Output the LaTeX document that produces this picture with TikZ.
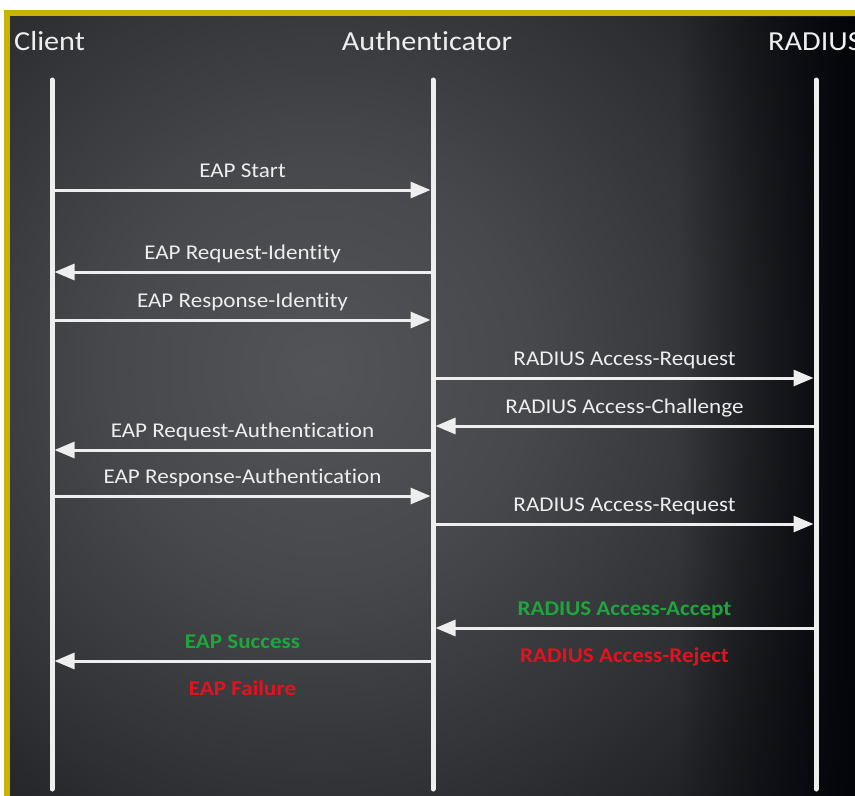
\documentclass[tikz,border=0pt]{standalone}
\usepackage{fontspec}
\setmainfont{Carlito}[FakeStretch=1.1, Ligatures=NoCommon]
\usetikzlibrary{arrows.meta, fadings}

\definecolor{frameyellow}{RGB}{200,180,0}
\definecolor{ink}{RGB}{238,238,238}
\definecolor{okgreen}{RGB}{30,165,60}
\definecolor{failred}{RGB}{228,18,30}
% background glow, from the lit middle out to the dark rim
\definecolor{bgA}{RGB}{82,84,88}
\definecolor{bgB}{RGB}{70,72,76}
\definecolor{bgC}{RGB}{48,50,54}
\definecolor{bgD}{RGB}{32,34,38}
\definecolor{bgE}{RGB}{18,20,25}
\definecolor{bgF}{RGB}{8,9,14}
\definecolor{bgG}{RGB}{4,5,10}
\pgfdeclareradialshading{panelglow}{\pgfpoint{0bp}{0bp}}{%
  color(0bp)=(bgA); color(9.5bp)=(bgB); color(19bp)=(bgC);
  color(25bp)=(bgD); color(31.5bp)=(bgE); color(38bp)=(bgF);
  color(50bp)=(bgG)}
% darkening towards the right rim
\tikzfading[name=darkright, left color=transparent!100, right color=transparent!0]

\tikzset{
  head/.style={text=ink, inner sep=0pt, font=\fontsize{27.5}{32}\selectfont},
  lifeline/.style={draw=ink, line width=5pt, line cap=round},
  msg/.style={draw=ink, line width=3pt,
    -{Triangle[length=20pt,width=16pt]},
    shorten >=2.5pt, shorten <=2.5pt},
  lblbase/.style={midway, anchor=base, inner sep=0pt,
    text=ink, font=\fontsize{21}{25}\selectfont},
  lbl/.style={lblbase, yshift=13pt},
  lblbelow/.style={lblbase, yshift=-34pt},
  okmsg/.style={text=okgreen, font=\fontsize{21}{25}\selectfont\bfseries},
  failmsg/.style={text=failred, font=\fontsize{21}{25}\selectfont\bfseries},
}

\begin{document}
\begin{tikzpicture}[x=1pt, y=-1pt]
\useasboundingbox (0,0) rectangle (855,796);
\fill[white] (0,0) rectangle (855,796);
\fill[frameyellow] (4,10) rectangle (855,796);
\begin{scope}
  \clip (10,16) rectangle (855,796);
  \shade[shading=panelglow] (-240,-190) rectangle (880,930);
  \fill[bgG, path fading=darkright] (680,16) rectangle (855,796);
\end{scope}

% actors
\node[head, anchor=base west] (hclient) at (14,50) {Client};
\node[head, anchor=base] (hauth) at (427,50) {Authenticator};
\node[head, anchor=base west] (hradius) at (768,50) {RADIUS};

% lifelines
\coordinate (ctop) at (52,80);   \coordinate (cbot) at (52,789);
\coordinate (atop) at (433,80);  \coordinate (abot) at (433,789);
\coordinate (rtop) at (816,80);  \coordinate (rbot) at (816,789);
\draw[lifeline] (ctop) -- (cbot);
\draw[lifeline] (atop) -- (abot);
\draw[lifeline] (rtop) -- (rbot);

% message rows
\coordinate (m1) at (0,190);
\coordinate (m2) at (0,272);
\coordinate (m3) at (0,320);
\coordinate (m4) at (0,378);
\coordinate (m5) at (0,426);
\coordinate (m6) at (0,450);
\coordinate (m7) at (0,496);
\coordinate (m8) at (0,524);
\coordinate (m9) at (0,628);
\coordinate (m10) at (0,661);

\draw[msg] (ctop |- m1) -- (atop |- m1) node[lbl] {EAP Start};
\draw[msg] (atop |- m2) -- (ctop |- m2) node[lbl] {EAP Request-Identity};
\draw[msg] (ctop |- m3) -- (atop |- m3) node[lbl] {EAP Response-Identity};
\draw[msg] (atop |- m4) -- (rtop |- m4) node[lbl] {RADIUS Access-Request};
\draw[msg] (rtop |- m5) -- (atop |- m5) node[lbl] {RADIUS Access-Challenge};
\draw[msg] (atop |- m6) -- (ctop |- m6) node[lbl] {EAP Request-Authentication};
\draw[msg] (ctop |- m7) -- (atop |- m7) node[lbl] {EAP Response-Authentication};
\draw[msg] (atop |- m8) -- (rtop |- m8) node[lbl] {RADIUS Access-Request};
\draw[msg] (rtop |- m9) -- (atop |- m9)
  node[lbl, okmsg] {RADIUS Access-Accept}
  node[lblbelow, failmsg] {RADIUS Access-Reject};
\draw[msg] (atop |- m10) -- (ctop |- m10)
  node[lbl, okmsg] {EAP Success}
  node[lblbelow, failmsg] {EAP Failure};
\end{tikzpicture}
\end{document}
